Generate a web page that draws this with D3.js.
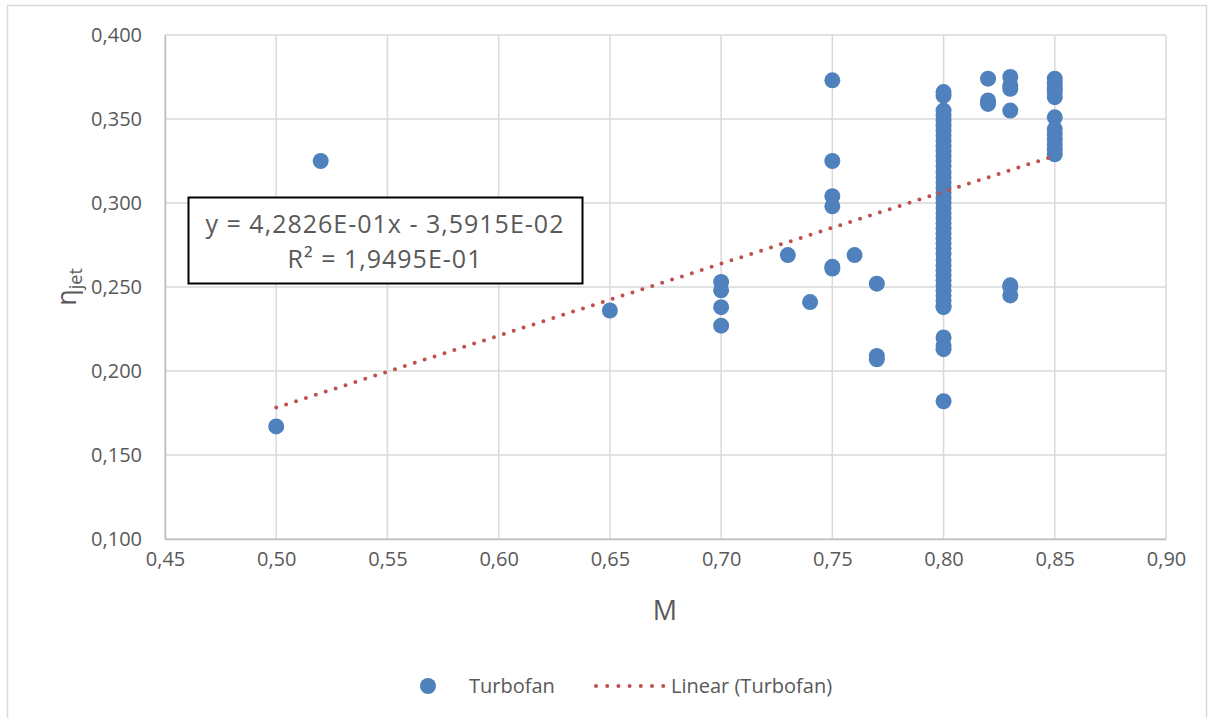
<!DOCTYPE html>
<html>
<head>
<meta charset="utf-8">
<script src="https://cdn.jsdelivr.net/npm/d3@7"></script>
<style>
  body { margin: 0; background: #fff; }
  text { font-family: "Open Sans", "Liberation Sans", sans-serif; fill: #595959; }
</style>
</head>
<body>
<svg id="chart" width="1213" height="718"></svg>
<script>
// data: Mach number vs jet efficiency (turbofan)
var machs = [0.50, 0.52, 0.65,
  0.70, 0.70, 0.70, 0.70,
  0.73, 0.74,
  0.75, 0.75, 0.75, 0.75, 0.75, 0.75,
  0.76, 0.77, 0.77, 0.77,
  0.80, 0.80, 0.80, 0.80, 0.80, 0.80, 0.80, 0.80, 0.80, 0.80,
  0.80, 0.80, 0.80, 0.80, 0.80, 0.80, 0.80, 0.80, 0.80, 0.80,
  0.80, 0.80, 0.80, 0.80, 0.80, 0.80, 0.80, 0.80, 0.80, 0.80,
  0.80, 0.80, 0.80, 0.80, 0.80, 0.80, 0.80, 0.80, 0.80, 0.80,
  0.80, 0.80, 0.80, 0.80, 0.80, 0.80,
  0.82, 0.82, 0.82,
  0.83, 0.83, 0.83, 0.83, 0.83, 0.83, 0.83,
  0.85, 0.85, 0.85, 0.85, 0.85, 0.85, 0.85, 0.85, 0.85, 0.85, 0.85, 0.85]
var etas = [0.167, 0.325, 0.236,
  0.253, 0.248, 0.238, 0.227,
  0.269, 0.241,
  0.373, 0.325, 0.304, 0.298, 0.262, 0.261,
  0.269, 0.252, 0.209, 0.207,
  0.366, 0.364, 0.355, 0.349, 0.346, 0.343, 0.340, 0.337, 0.334, 0.331,
  0.328, 0.325, 0.322, 0.318, 0.315, 0.312, 0.309, 0.306, 0.303, 0.300,
  0.297, 0.294, 0.291, 0.288, 0.285, 0.282, 0.279, 0.276, 0.273, 0.270,
  0.266, 0.263, 0.260, 0.257, 0.254, 0.251, 0.248, 0.245, 0.242, 0.239,
  0.220, 0.215, 0.213, 0.182, 0.238, 0.352,
  0.374, 0.361, 0.359,
  0.375, 0.370, 0.368, 0.355, 0.251, 0.250, 0.245,
  0.374, 0.371, 0.368, 0.366, 0.363, 0.351, 0.344, 0.341, 0.338, 0.335, 0.332, 0.329]

var xTicks = [0.45, 0.50, 0.55, 0.60, 0.65, 0.70, 0.75, 0.80, 0.85, 0.90]
var yTicks = [0.100, 0.150, 0.200, 0.250, 0.300, 0.350, 0.400]

// trendline from the chart's equation
var slope = 0.42826, intercept = -0.035915
var trendRange = [0.50, 0.85]
var eqLines = ['y = 4,2826E-01x - 3,5915E-02', 'R² = 1,9495E-01']

var blue = '#4F81BD', red = '#C0504D'
var comma = function(f) { return function(v) { return d3.format(f)(v).replace('.', ',') } }

var svg = d3.select('#chart')

// outer chart border
svg.append('rect')
    .attr('x', 7.5).attr('y', 5.5)
    .attr('width', 1199).attr('height', 730)
    .attr('fill', 'none').attr('stroke', '#D9D9D9').attr('stroke-width', 1.5)

var pLeft = 165, pRight = 1166, pTop = 35, pBottom = 539

var x = d3.scaleLinear().domain([0.45, 0.90]).range([pLeft, pRight])
var y = d3.scaleLinear().domain([0.100, 0.400]).range([pBottom, pTop])

// gridlines
svg.append('g')
    .selectAll('line')
    .data(xTicks)
    .enter()
    .append('line')
    .attr('x1', function(d) { return x(d) }).attr('x2', function(d) { return x(d) })
    .attr('y1', pTop).attr('y2', pBottom)
    .attr('stroke', '#D9D9D9').attr('stroke-width', 1.5)

svg.append('g')
    .selectAll('line')
    .data(yTicks)
    .enter()
    .append('line')
    .attr('x1', pLeft).attr('x2', pRight)
    .attr('y1', function(d) { return y(d) }).attr('y2', function(d) { return y(d) })
    .attr('stroke', '#D9D9D9').attr('stroke-width', 1.5)

// axes (lines plus labels)
var xAxis = svg.append('g')
    .attr('transform', 'translate(0,' + pBottom + ')')
    .call(d3.axisBottom(x).tickValues(xTicks).tickFormat(comma('.2f')).tickSize(0).tickPadding(13))
xAxis.select('.domain').attr('stroke', '#BFBFBF').attr('stroke-width', 1.5)
xAxis.selectAll('text').style('font-size', '20px').attr('fill', '#595959')

var yAxis = svg.append('g')
    .attr('transform', 'translate(' + pLeft + ',0)')
    .call(d3.axisLeft(y).tickValues(yTicks).tickFormat(comma('.3f')).tickSize(0).tickPadding(23))
yAxis.select('.domain').attr('stroke', '#BFBFBF').attr('stroke-width', 1.5)
yAxis.selectAll('text').style('font-size', '20px').attr('fill', '#595959')

// points
svg.append('g')
    .selectAll('.dot')
    .data(machs)
    .enter()
    .append('circle')
    .attr('class', 'dot')
    .attr('cx', function(d) { return x(d) })
    .attr('cy', function(d, i) { return y(etas[i]) })
    .attr('r', 8)
    .attr('fill', blue)

// linear trendline
var line = d3.line()
    .x(function(d) { return x(d) })
    .y(function(d) { return y(slope * d + intercept) })
svg.append('path')
    .datum(trendRange)
    .attr('d', line)
    .attr('fill', 'none')
    .attr('stroke', red)
    .attr('stroke-width', 4)
    .attr('stroke-linecap', 'round')
    .attr('stroke-dasharray', '0 10.4')

// equation box
svg.append('rect')
    .attr('x', 188.5).attr('y', 197.5)
    .attr('width', 394).attr('height', 86)
    .attr('fill', '#fff').attr('stroke', '#000').attr('stroke-width', 2)
svg.append('g')
    .selectAll('text')
    .data(eqLines)
    .enter()
    .append('text')
    .attr('x', 385)
    .attr('y', function(d, i) { return 233 + i * 35 })
    .attr('text-anchor', 'middle')
    .style('font-size', '25px')
    .style('letter-spacing', '1px')
    .text(function(d) { return d })

// axis titles
svg.append('text')
    .attr('x', 665).attr('y', 620)
    .attr('text-anchor', 'middle')
    .style('font-size', '27px')
    .text('M')

var yt = svg.append('text')
    .attr('transform', 'translate(76,287) rotate(-90)')
    .attr('text-anchor', 'middle')
    .style('font-size', '27px')
yt.append('tspan').text('η')
yt.append('tspan').attr('dy', 6).style('font-size', '18px').text('jet')

// legend
svg.append('circle').attr('cx', 428).attr('cy', 686).attr('r', 8).attr('fill', blue)
svg.append('text').attr('x', 469).attr('y', 693).style('font-size', '20px').text('Turbofan')
svg.append('line')
    .attr('x1', 596).attr('x2', 664).attr('y1', 686).attr('y2', 686)
    .attr('stroke', red).attr('stroke-width', 4)
    .attr('stroke-linecap', 'round').attr('stroke-dasharray', '0 11.2')
svg.append('text').attr('x', 671).attr('y', 693).style('font-size', '20px').text('Linear (Turbofan)')
</script>
</body>
</html>
